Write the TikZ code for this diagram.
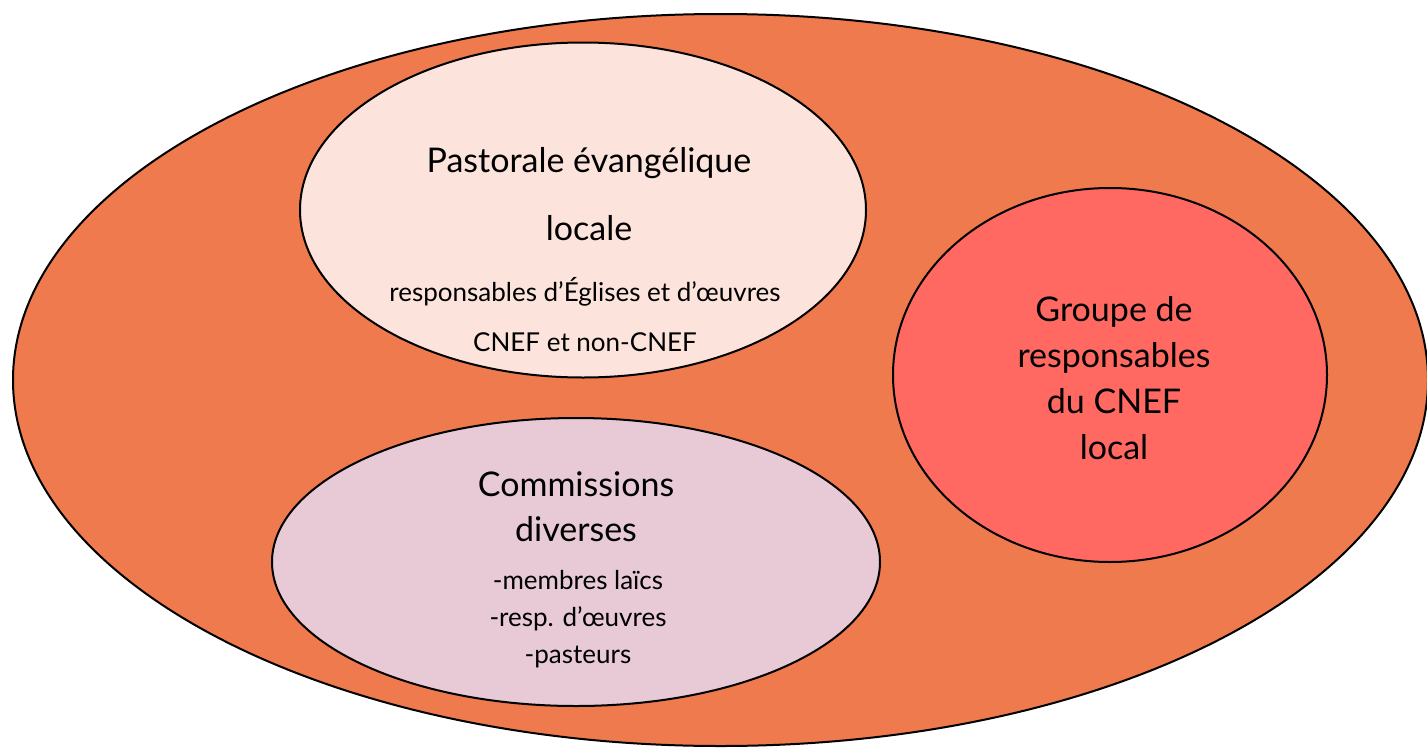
\documentclass[tikz,border=0pt]{standalone}
\usepackage{fontspec}
\setmainfont{Lato}
\usepackage{tikz}
\usetikzlibrary{shapes.geometric}
\usetikzlibrary{positioning}
\usepackage{xcolor}
\definecolor{outerorange}{HTML}{EE7A4E}
\definecolor{pastopink}{HTML}{FCE3DC}
\definecolor{commimauve}{HTML}{E7CAD5}
\definecolor{groupered}{HTML}{FF6962}

\begin{document}
\begin{tikzpicture}[x=1pt, y=-1pt,
    zone/.style={draw, ellipse, line width=2pt, inner sep=0pt},
    bigtext/.style={align=center, font=\fontsize{34}{46}\selectfont},
    smalltext/.style={align=center, font=\fontsize{26}{50}\selectfont}]
            % local CNEF organisation
            \useasboundingbox (0,0) rectangle (1427,747);
            \node[zone, fill=outerorange, minimum width=1415pt, minimum height=732pt] (cnef) at (720.5,380) {};
            \node[zone, fill=pastopink, minimum width=566pt, minimum height=335pt] (pastorale) at (583,210) {};
            \node[zone, fill=commimauve, minimum width=608pt, minimum height=288pt] (commissions) at (576,562) {};
            \node[zone, fill=groupered, minimum width=434pt, minimum height=374pt] (groupe) at (1110,375) {};

            \node[bigtext, font=\fontsize{34}{68}\selectfont] (pastoraletitle) at (589,194) {Pastorale évangélique\\locale};
            \node[smalltext] (pastoralesub) at (585,315) {responsables d’Églises et d’œuvres\\CNEF et non-CNEF};

            \node[bigtext, font=\fontsize{34}{45}\selectfont] (commtitle) at (576,507) {Commissions\\diverses};
            \node[smalltext, font=\fontsize{26}{37}\selectfont] (commsub) at (578,619) {-membres laïcs\\-resp. d’œuvres\\-pasteurs};

            \node[bigtext] (groupetext) at (1114,378) {Groupe de\\responsables\\du CNEF\\local};
        \end{tikzpicture}
\end{document}
